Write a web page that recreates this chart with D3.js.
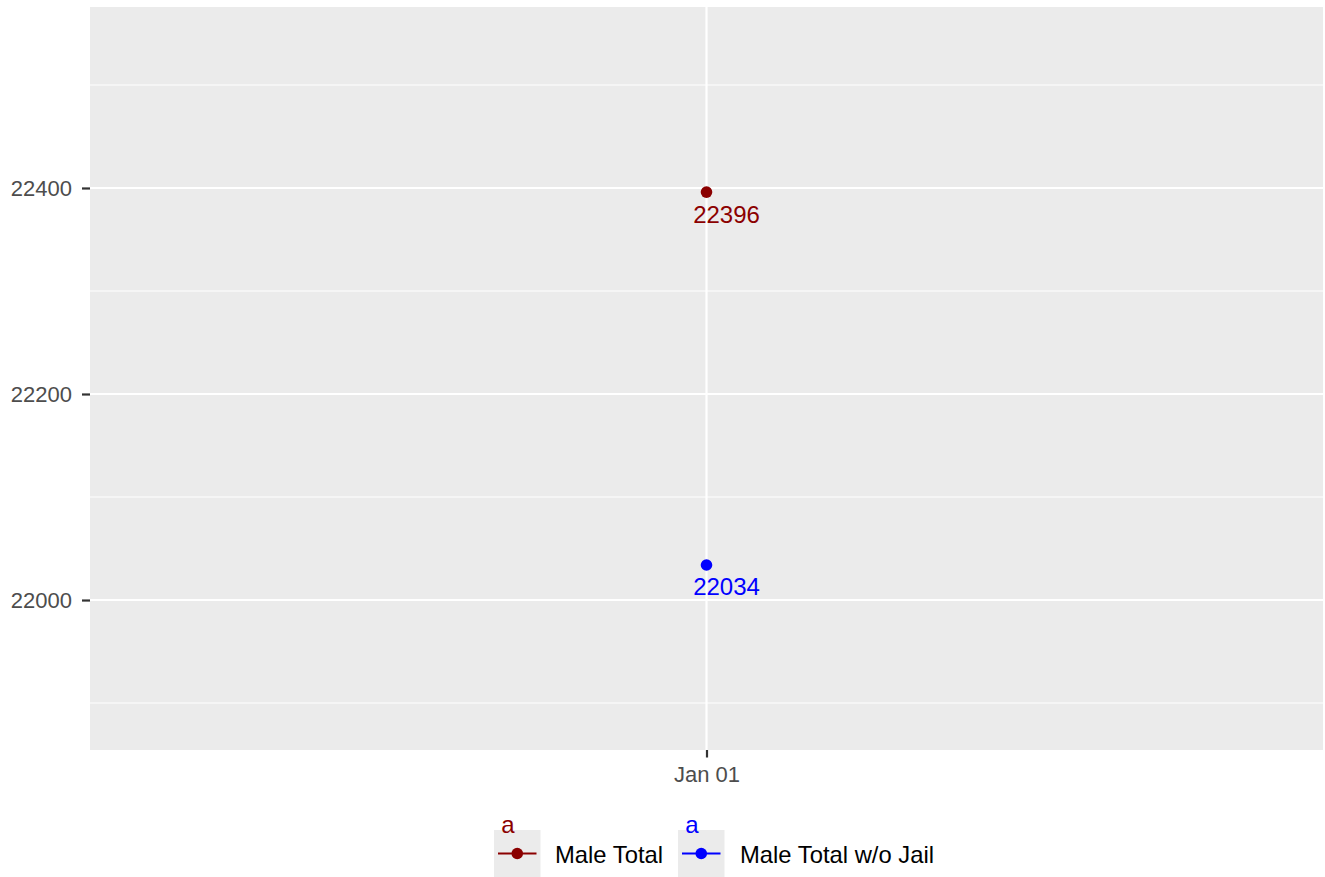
<!DOCTYPE html>
<html><head><meta charset="utf-8">
<script src="https://cdn.jsdelivr.net/npm/d3@7"></script>
<style>body{margin:0;background:#fff;} text{font-family:"Liberation Sans",Arial,sans-serif;}</style>
</head><body>
<svg id="c" width="1325" height="877"></svg>
<script>
const categories = ["Jan 01"];
const seriesNames = ["Male Total", "Male Total w/o Jail"];
const maleTotal = [22396];
const maleTotalNoJail = [22034];
const yTicks = [22000, 22200, 22400];
const yMinor = [21900, 22100, 22300, 22500];
const colors = ["#8B0000", "#0000FF"];

const svg = d3.select("#c");
const L = 90, R = 1323, T = 7, B = 750;
const x = d3.scalePoint().domain(categories).range([L, R]).padding(0.5);
const y = d3.scaleLinear().domain([21854.4, 22575.7]).range([B, T]);

svg.append("rect").attr("x", L).attr("y", T).attr("width", R - L).attr("height", B - T).attr("fill", "#EBEBEB");
yMinor.forEach(v => svg.append("line").attr("x1", L).attr("x2", R).attr("y1", y(v)).attr("y2", y(v)).attr("stroke", "#fff").attr("stroke-width", 1.1));
yTicks.forEach(v => svg.append("line").attr("x1", L).attr("x2", R).attr("y1", y(v)).attr("y2", y(v)).attr("stroke", "#fff").attr("stroke-width", 2.2));
categories.forEach(c => svg.append("line").attr("x1", x(c)).attr("x2", x(c)).attr("y1", T).attr("y2", B).attr("stroke", "#fff").attr("stroke-width", 2.2));

const yAxis = svg.append("g").attr("transform", `translate(${L},0)`).call(d3.axisLeft(y).tickValues(yTicks).tickSize(8).tickPadding(10).tickFormat(d3.format("d")));
const xAxis = svg.append("g").attr("transform", `translate(0,${B})`).call(d3.axisBottom(x).tickSize(7.5).tickPadding(9));
[yAxis, xAxis].forEach(a => {
  a.attr("font-size", 22).attr("font-family", "Liberation Sans, Arial, sans-serif");
  a.select(".domain").remove();
  a.selectAll(".tick line").attr("stroke", "#333").attr("stroke-width", 2.2);
  a.selectAll(".tick text").attr("fill", "#4D4D4D").attr("font-size", 22);
});

const series = [maleTotal, maleTotalNoJail];
series.forEach((vals, i) => {
  vals.forEach((v, j) => {
    const cx = x(categories[j]), cy = y(v);
    svg.append("circle").attr("cx", cx).attr("cy", cy).attr("r", 5.8).attr("fill", colors[i]);
    svg.append("text").attr("x", cx + 20).attr("y", cy + 30.5).attr("text-anchor", "middle")
      .attr("fill", colors[i]).attr("font-size", 24).text(v);
  });
});

// legend
const lg = svg.append("g");
const keys = [{x: 494, tx: 555}, {x: 678, tx: 740}];
keys.forEach((k, i) => {
  lg.append("rect").attr("x", k.x).attr("y", 830).attr("width", 46.5).attr("height", 47).attr("fill", "#EBEBEB");
  lg.append("line").attr("x1", k.x + 4).attr("x2", k.x + 42.5).attr("y1", 853.5).attr("y2", 853.5).attr("stroke", colors[i]).attr("stroke-width", 2.2);
  lg.append("circle").attr("cx", k.x + 23.25).attr("cy", 853.5).attr("r", 5.8).attr("fill", colors[i]);
  lg.append("text").attr("x", k.x + 14).attr("y", 833).attr("text-anchor", "middle").attr("fill", colors[i]).attr("font-size", 24).text("a");
  lg.append("text").attr("x", k.tx).attr("y", 863).attr("fill", "#000").attr("font-size", 23.8).text(seriesNames[i]);
});
</script>
</body></html>
